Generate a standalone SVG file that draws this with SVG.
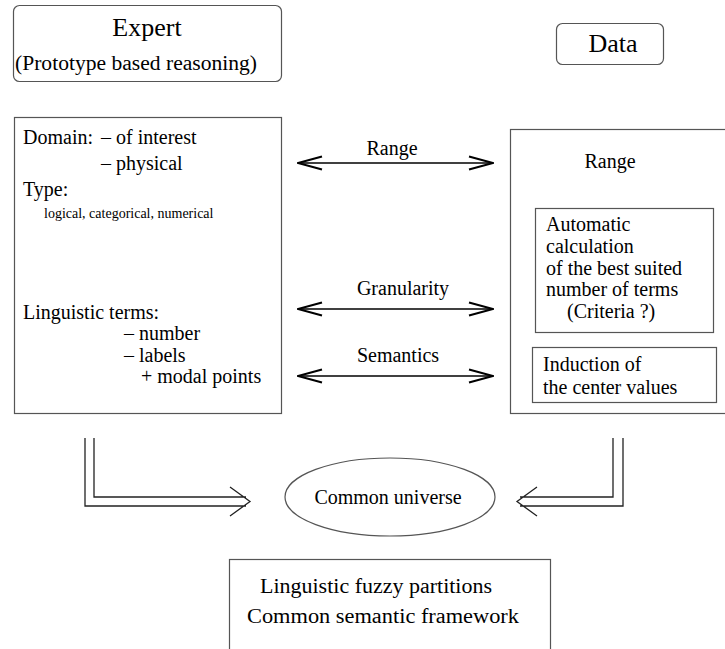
<svg xmlns="http://www.w3.org/2000/svg" width="725" height="649" viewBox="0 0 725 649">
<style>
text{fill:#000;font-size:20px;font-family:'Liberation Serif','Times New Roman',Times,serif}
.big{font-size:26px}
.small{font-size:14px}
.box{fill:none;stroke:#555;stroke-width:1.2}
.ln{fill:none;stroke:#000;stroke-width:1.6}
.dl{fill:none;stroke:#222;stroke-width:1.3}
.c{text-anchor:middle}
</style>
<defs>
<marker id="ah" viewBox="0 0 26 16" refX="25" refY="8" markerWidth="26" markerHeight="16" markerUnits="userSpaceOnUse" orient="auto-start-reverse">
<path d="M1,1.5 L25,8 L1,14.5" fill="none" stroke="#000" stroke-width="2.2"/>
</marker>
</defs>
<rect width="725" height="649" fill="#fff"/>
<g id="expert">
<rect class="box" x="13.5" y="5.5" width="268" height="76" rx="6"/>
<text class="big c" x="147" y="36">Expert</text>
<text x="15" y="70" textLength="242" lengthAdjust="spacingAndGlyphs">(Prototype based reasoning)</text>
</g>
<g id="data">
<rect class="box" x="556.5" y="23.5" width="107" height="41" rx="6"/>
<text class="big c" x="613" y="52">Data</text>
</g>
<g id="expert-props">
<rect class="box" x="14.5" y="117.5" width="267" height="296"/>
<text x="23" y="144">Domain:</text>
<text x="101" y="144">– of interest</text>
<text x="101" y="170">– physical</text>
<text x="23" y="196">Type:</text>
<text class="small" x="44" y="218">logical, categorical, numerical</text>
<text x="23" y="319">Linguistic terms:</text>
<text x="124" y="340">– number</text>
<text x="124" y="361.5">– labels</text>
<text x="141" y="383">+ modal points</text>
</g>
<g id="data-props">
<rect class="box" x="510.5" y="129.5" width="220" height="284"/>
<text class="c" x="610" y="168">Range</text>
</g>
<g id="auto-calc">
<rect class="box" x="535.5" y="208.5" width="178" height="124"/>
<text x="546" y="231">Automatic</text>
<text x="546" y="253">calculation</text>
<text x="546" y="274.5">of the best suited</text>
<text x="546" y="296">number of terms</text>
<text x="567" y="318">(Criteria ?)</text>
</g>
<g id="induction">
<rect class="box" x="532.5" y="347.5" width="184" height="55"/>
<text x="543" y="371">Induction of</text>
<text x="543" y="394">the center values</text>
</g>
<g id="common-universe">
<ellipse cx="390" cy="497" rx="105" ry="39" fill="none" stroke="#555" stroke-width="1.2"/>
<text class="c" x="388" y="504">Common universe</text>
</g>
<g id="result">
<rect class="box" x="229.5" y="559.5" width="321" height="100"/>
<text x="260" y="593" textLength="232" lengthAdjust="spacingAndGlyphs">Linguistic fuzzy partitions</text>
<text x="247" y="623" textLength="272" lengthAdjust="spacingAndGlyphs">Common semantic framework</text>
</g>
<g id="connectors">
<line class="ln" x1="298" y1="163" x2="493" y2="163" marker-start="url(#ah)" marker-end="url(#ah)"/>
<text class="c" x="392" y="155">Range</text>
<line class="ln" x1="298" y1="309" x2="493" y2="309" marker-start="url(#ah)" marker-end="url(#ah)"/>
<text class="c" x="403" y="295">Granularity</text>
<line class="ln" x1="298" y1="376" x2="493" y2="376" marker-start="url(#ah)" marker-end="url(#ah)"/>
<text class="c" x="398" y="362">Semantics</text>
<path class="dl" d="M85,438 V506 H246 M94,438 V497 H246 M230,487 L250,501.5 L230,516"/>
<path class="dl" d="M623,438 V506 H520 M613,438 V497 H520 M537,487 L517,501.5 L537,516"/>
</g>
</svg>
